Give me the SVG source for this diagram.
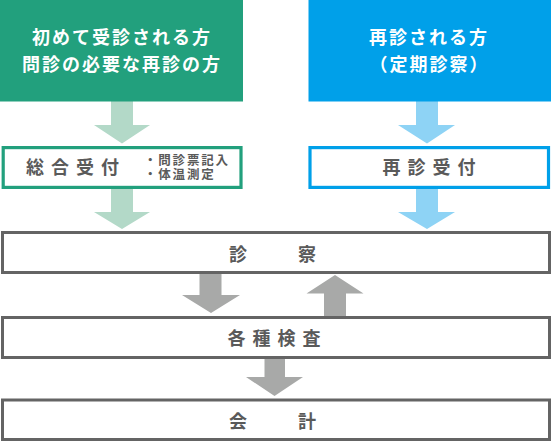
<svg xmlns="http://www.w3.org/2000/svg" width="551" height="442" viewBox="0 0 551 442">
<style>
text{font-family:"Noto Sans CJK JP","Noto Sans",sans-serif;font-weight:bold}
.title{fill:#fff;font-size:18px;letter-spacing:2px;text-anchor:middle}
.lbl{fill:#5a5a5a;font-size:18px;letter-spacing:7px}
.wide{fill:#5a5a5a;font-size:18px;letter-spacing:16.5px}
.note{fill:#5a5a5a;font-size:12.5px;letter-spacing:1.8px}
.gbox{fill:#fff;stroke:#22a07d;stroke-width:3.2}
.bbox{fill:#fff;stroke:#00a0e9;stroke-width:3.2}
.box{fill:#fff;stroke:#646464;stroke-width:3}
.ga{fill:#b3d9c8}
.ba{fill:#8ed3f5}
.ka{fill:#a8a9a8}
</style>
<rect width="551" height="442" fill="#fff"/>
<g id="connectors">
<polygon class="ga" points="111,101 133,101 133,125 150,125 122,143.5 94,125 111,125"/>
<polygon class="ga" points="111,188 133,188 133,212 150,212 122,229 94,212 111,212"/>
<polygon class="ba" points="416,101 438,101 438,125 455,125 427,143.5 398,125 416,125"/>
<polygon class="ba" points="416,188 438,188 438,212 455,212 427,229 398,212 416,212"/>
<polygon class="ka" points="199.5,273 221.5,273 221.5,295 240,295 211,313 182,295 199.5,295"/>
<polygon class="ka" points="324,317 346,317 346,293.5 363.5,293.5 335,275 306.5,293.5 324,293.5"/>
<polygon class="ka" points="264.5,358 285,358 285,377 303,377 274.5,396 246,377 264.5,377"/>
</g>
<g id="first-visit">
<rect x="0" y="0" width="243" height="101.5" fill="#22a07d"/>
<text class="title" x="122" y="44">初めて受診される方</text>
<text class="title" x="122" y="71">問診の必要な再診の方</text>
</g>
<g id="revisit">
<rect x="308.5" y="0" width="242.5" height="101.5" fill="#00a0e9"/>
<text class="title" x="429" y="44">再診される方</text>
<text class="title" x="429.5" y="71">（定期診察）</text>
</g>
<g id="general-reception">
<rect class="gbox" x="3.2" y="147.6" width="237.8" height="39.8"/>
<text class="lbl" x="26" y="174.3">総合受付</text>
<text class="note"><tspan x="144" y="164.8">・問診票記入</tspan><tspan x="144" y="179">・体温測定</tspan></text>
</g>
<g id="revisit-reception">
<rect class="bbox" x="310" y="147.6" width="238.5" height="39.8"/>
<text class="lbl" x="382.5" y="174">再診受付</text>
</g>
<g id="consultation">
<rect class="box" x="2.5" y="232.5" width="547" height="40"/>
<text class="wide" x="229" y="261">診　察</text>
</g>
<g id="examinations">
<rect class="box" x="2.5" y="317.5" width="547" height="40"/>
<text class="lbl" x="227.5" y="344.5">各種検査</text>
</g>
<g id="payment">
<rect class="box" x="2.5" y="400" width="547" height="39.5"/>
<text class="wide" x="229" y="427.6">会　計</text>
</g>
</svg>
